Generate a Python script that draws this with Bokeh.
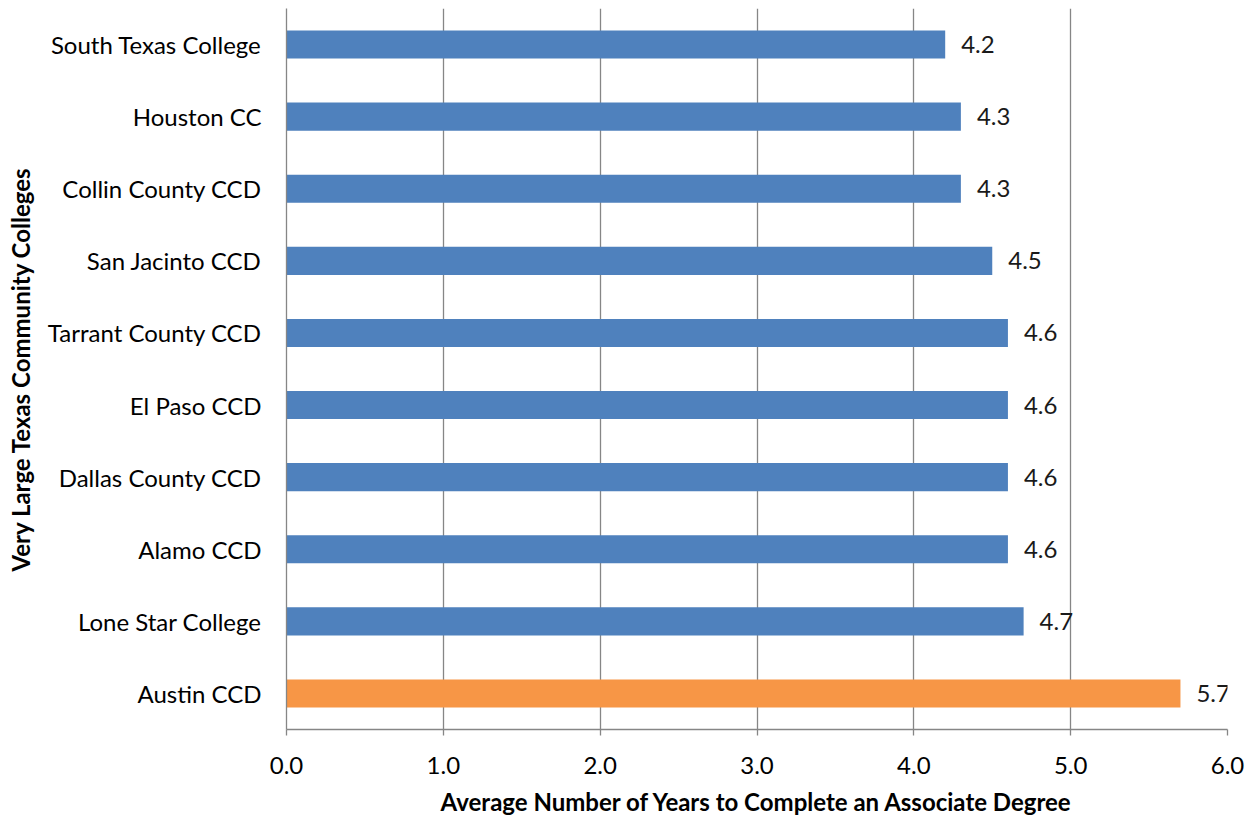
from bokeh.plotting import figure
from bokeh.models import ColumnDataSource, FixedTicker, Range1d, CustomJSTickFormatter
from bokeh.core.properties import value
from bokeh.embed import file_html
from bokeh.resources import INLINE

colleges = ["Austin CCD", "Lone Star College", "Alamo CCD", "Dallas County CCD", "El Paso CCD",
            "Tarrant County CCD", "San Jacinto CCD", "Collin County CCD", "Houston CC", "South Texas College"]
years = [5.7, 4.7, 4.6, 4.6, 4.6, 4.6, 4.5, 4.3, 4.3, 4.2]
colors = ["#F79646"] + ["#4F81BD"] * 9
labels = ["%.1f" % v for v in years]
x_ticks = [0, 1, 2, 3, 4, 5, 6]

FONT = "Lato"
FS = "24px"
GRID = "#868686"

src = ColumnDataSource(dict(college=colleges, years=years, color=colors, label=labels))

p = figure(y_range=colleges, x_range=Range1d(0, 6), width=1249, height=821,
           output_backend="svg", toolbar_location=None,
           min_border_left=286, min_border_right=22, min_border_top=8, min_border_bottom=92)
p.outline_line_color = None
p.background_fill_color = "white"
p.border_fill_color = "white"
p.y_range.range_padding = 0

p.hbar(y="college", right="years", height=0.39, left=0, color="color", line_color=None, source=src)
p.text(x="years", y="college", text="label", source=src, x_offset=16,
       text_align="left", text_baseline="middle", text_font=value(FONT),
       text_font_size=FS, text_color="#1a1a1a")

p.xaxis.ticker = FixedTicker(ticks=x_ticks)
p.xaxis.formatter = CustomJSTickFormatter(code="return tick.toFixed(1);")
p.xaxis.axis_line_color = GRID
p.xaxis.axis_line_width = 1.3
p.xaxis.major_tick_line_color = GRID
p.xaxis.major_tick_line_width = 1.3
p.xaxis.major_tick_out = 6
p.xaxis.major_tick_in = 0
p.xaxis.minor_tick_line_color = None
p.xaxis.major_label_text_font = FONT
p.xaxis.major_label_text_font_size = FS
p.xaxis.major_label_text_color = "black"
p.xaxis.major_label_standoff = 21
p.xaxis.axis_label = "Average Number of Years to Complete an Associate Degree"
p.xaxis.axis_label_text_font = FONT
p.xaxis.axis_label_text_font_size = FS
p.xaxis.axis_label_text_font_style = "bold"
p.xaxis.axis_label_text_color = "black"
p.xaxis.axis_label_standoff = 10

p.yaxis.axis_line_color = GRID
p.yaxis.axis_line_width = 1.3
p.yaxis.major_tick_line_color = None
p.yaxis.major_tick_out = 0
p.yaxis.major_tick_in = 0
p.yaxis.minor_tick_line_color = None
p.yaxis.major_label_text_font = FONT
p.yaxis.major_label_text_font_size = FS
p.yaxis.major_label_text_color = "black"
p.yaxis.major_label_standoff = 25
p.yaxis.axis_label = "Very Large Texas Community Colleges"
p.yaxis.axis_label_text_font = FONT
p.yaxis.axis_label_text_font_size = FS
p.yaxis.axis_label_text_font_style = "bold"
p.yaxis.axis_label_text_color = "black"
p.yaxis.axis_label_standoff = 10

p.xgrid.grid_line_color = GRID
p.xgrid.grid_line_width = 1.3
p.xgrid.ticker = FixedTicker(ticks=x_ticks)
p.ygrid.grid_line_color = None

open("out.html", "w").write(file_html(p, INLINE))
